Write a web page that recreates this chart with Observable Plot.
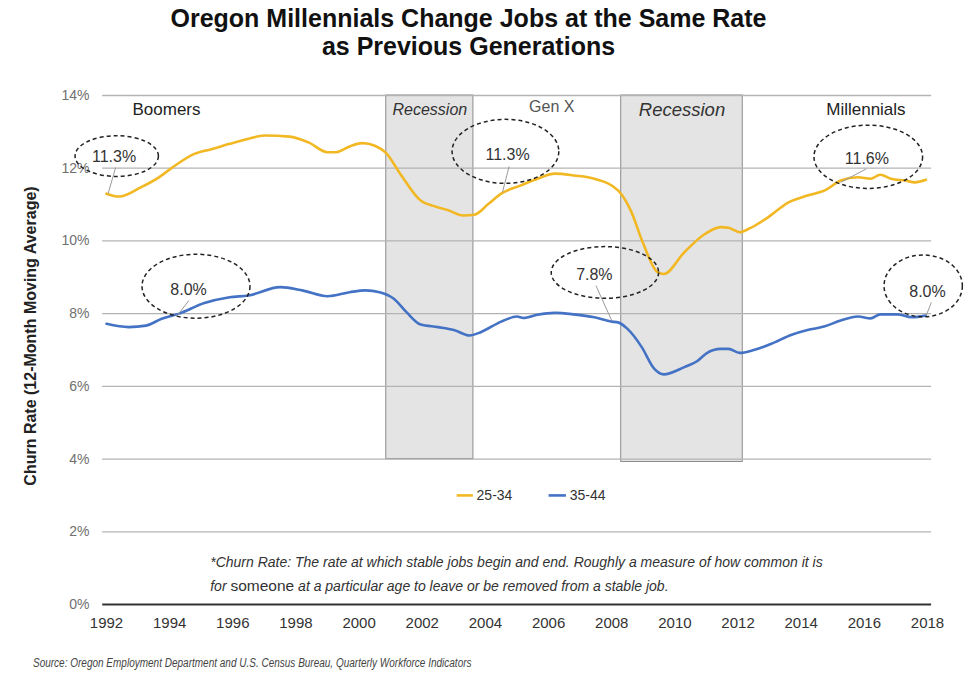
<!DOCTYPE html>
<html>
<head>
<meta charset="utf-8">
<script src="https://cdn.jsdelivr.net/npm/d3@7"></script>
<script src="https://cdn.jsdelivr.net/npm/@observablehq/plot@0.6"></script>
<style>
  html, body { margin: 0; padding: 0; background: #fff; }
  body { width: 977px; height: 691px; overflow: hidden; font-family: "Liberation Sans", Arial, sans-serif; }
  #title { height: 70px; box-sizing: border-box; padding-top: 4px; text-align: center; font-weight: bold; font-size: 25px; line-height: 28px; color: #111; padding-right: 40px; }
  #chart svg { display: block; overflow: visible; }
  #source { font-style: italic; font-size: 12.5px; color: #444; margin-left: 33px; margin-top: 16px; white-space: nowrap; transform: scaleX(0.8); transform-origin: left center; }
  g[aria-label^="x-axis"] text { font-size: 15px; fill: #333; }
  g[aria-label^="y-axis"] text { font-size: 14px; fill: #707070; }
</style>
</head>
<body>
<div id="title">Oregon Millennials Change Jobs at the Same Rate<br>as Previous Generations</div>
<div id="chart"></div>
<div id="source">Source: Oregon Employment Department and U.S. Census Bureau, Quarterly Workforce Indicators</div>
<script>
// ---- Data ----
const seriesNames = ["25-34", "35-44"];
const years2534 = [1992.0, 1992.4, 1993.1, 1993.66, 1994.1, 1994.8, 1995.35, 1995.9, 1996.5, 1997.0, 1997.8, 1998.4, 1999.0, 1999.25, 1999.7, 2000.1, 2000.5, 2000.85, 2001.3, 2001.95, 2002.4, 2002.8, 2003.3, 2003.65, 2004.1, 2004.5, 2005.1, 2005.65, 2006.2, 2006.8, 2007.45, 2008.2, 2008.6, 2009.0, 2009.45, 2009.65, 2010.3, 2010.95, 2011.45, 2011.7, 2012.05, 2012.4, 2012.95, 2013.6, 2014.2, 2014.75, 2015.25, 2015.8, 2016.2, 2016.5, 2016.85, 2017.3, 2017.6, 2017.95];
const rate2534  = [11.30, 11.22, 11.48, 11.75, 12.03, 12.40, 12.53, 12.67, 12.81, 12.90, 12.87, 12.71, 12.44, 12.44, 12.60, 12.69, 12.62, 12.42, 11.85, 11.11, 10.95, 10.85, 10.70, 10.72, 11.02, 11.30, 11.52, 11.71, 11.85, 11.80, 11.71, 11.39, 10.84, 9.92, 9.14, 9.09, 9.69, 10.19, 10.38, 10.36, 10.24, 10.36, 10.65, 11.06, 11.25, 11.39, 11.66, 11.75, 11.71, 11.82, 11.71, 11.66, 11.61, 11.68];
const years3544 = [1992.0, 1992.7, 1993.25, 1993.75, 1994.3, 1995.1, 1995.9, 1996.5, 1997.5, 1998.2, 1999.0, 1999.7, 2000.2, 2000.65, 2001.1, 2001.5, 2001.95, 2002.5, 2003.0, 2003.5, 2003.85, 2004.5, 2005.0, 2005.2, 2005.65, 2006.2, 2006.8, 2007.45, 2008.0, 2008.2, 2008.5, 2008.95, 2009.35, 2009.65, 2010.3, 2010.7, 2011.0, 2011.45, 2011.7, 2012.05, 2012.5, 2013.05, 2013.7, 2014.2, 2014.75, 2015.25, 2015.8, 2016.2, 2016.5, 2017.05, 2017.5, 2017.95];
const rate3544  = [7.72, 7.63, 7.67, 7.86, 8.00, 8.29, 8.45, 8.50, 8.73, 8.64, 8.48, 8.59, 8.64, 8.59, 8.41, 8.04, 7.70, 7.63, 7.55, 7.40, 7.49, 7.78, 7.92, 7.88, 7.97, 8.02, 7.98, 7.90, 7.78, 7.76, 7.58, 7.08, 6.48, 6.33, 6.53, 6.69, 6.91, 7.03, 7.03, 6.92, 7.00, 7.17, 7.42, 7.55, 7.65, 7.81, 7.92, 7.87, 7.98, 7.98, 7.90, 7.95];

const recessionStart = [2000.86, 2008.3];
const recessionEnd   = [2003.62, 2012.15];
const recessionLow   = [4.0, 3.92];
const recessionHigh  = [14, 14];
const recessionLabel = ["Recession", "Recession"];

const generationLabel = ["Boomers", "Gen X", "Millennials"];
const generationYear  = [1993.9, 2006.1, 2016.05];
const generationRate  = [13.6, 13.7, 13.6];

const annLabel      = ["11.3%", "8.0%", "11.3%", "7.8%", "11.6%", "8.0%"];
const annPointYear  = [1992.05, 1994.24, 2004.54, 2008.0, 2015.25, 2017.96];
const annPointRate  = [11.30, 7.95, 11.34, 7.81, 11.61, 7.95];
const annLeadYear   = [1992.29, 1994.61, 2004.75, 2007.5, 2016.06, 2018.12];
const annLeadRate   = [12.02, 8.36, 12.05, 8.77, 11.98, 8.31];
const annCenterYear = [1992.34, 1994.85, 2004.65, 2007.8, 2016.14, 2017.88];
const annCenterRate = [12.32, 8.74, 12.45, 9.12, 12.30, 8.75];
const annHalfYears  = [1.32, 1.71, 1.69, 1.70, 1.72, 1.24];
const annHalfRate   = [0.56, 0.88, 0.88, 0.71, 0.87, 0.85];
const annTextYear   = [1992.24, 1994.6, 2004.7, 2007.45, 2016.08, 2018.0];
const annTextRate   = [12.32, 8.66, 12.38, 9.07, 12.27, 8.59];

const xTicks = [1992, 1994, 1996, 1998, 2000, 2002, 2004, 2006, 2008, 2010, 2012, 2014, 2016, 2018];
const yTicks = [0, 2, 4, 6, 8, 10, 12, 14];
const yAxisLabel = "Churn Rate (12-Month Moving Average)";
const footnoteLine1 = ["*Churn Rate: The rate at which stable jobs begin and end. Roughly a measure of how common it is"];
const footnoteLine2 = ["for ", "someone", " at a particular age to leave or be removed from a stable job."];

// ---- Layout / style (not data) ----
const colors = {"25-34": "#F2B824", "35-44": "#4472C4"};
const legendLayout = [
  {name: "25-34", x1: 2003.09, x2: 2003.6, tx: 2003.72, y: 3.0},
  {name: "35-44", x1: 2006.0, x2: 2006.55, tx: 2006.67, y: 3.0}
];
const footLayout = {x: 1995.3, y1: 1.14, y2: 0.47};

// ---- Build tables ----
const lineData = [
  ...years2534.map((x, i) => ({series: "25-34", year: x, rate: rate2534[i]})),
  ...years3544.map((x, i) => ({series: "35-44", year: x, rate: rate3544[i]}))
];
const recessions = recessionStart.map((s, i) => ({x1: s, x2: recessionEnd[i], y1: recessionLow[i], y2: recessionHigh[i], label: recessionLabel[i], size: i === 0 ? 16 : 18.5}));
const generations = generationLabel.map((g, i) => ({label: g, year: generationYear[i], rate: generationRate[i]}));
const anns = annLabel.map((l, i) => ({
  label: l, px: annPointYear[i], py: annPointRate[i], lx: annLeadYear[i], ly: annLeadRate[i],
  cx: annCenterYear[i], cy: annCenterRate[i], hw: annHalfYears[i], hh: annHalfRate[i],
  tx: annTextYear[i], ty: annTextRate[i]
}));

function ellipseMark(data) {
  return (index, scales) => {
    const g = d3.create("svg:g").attr("aria-label", "annotation ellipses");
    for (const d of data) {
      const cx = scales.x(d.cx), cy = scales.y(d.cy);
      const rx = Math.abs(scales.x(d.cx + d.hw) - cx);
      const ry = Math.abs(scales.y(d.cy + d.hh) - cy);
      g.append("ellipse")
        .attr("cx", cx).attr("cy", cy).attr("rx", rx).attr("ry", ry)
        .attr("fill", "none").attr("stroke", "#222").attr("stroke-width", 1.5)
        .attr("stroke-dasharray", "4,3");
    }
    return g.node();
  };
}

function footnoteMark() {
  return (index, scales) => {
    const g = d3.create("svg:g").attr("aria-label", "footnote")
      .attr("font-family", "Liberation Sans, Arial, sans-serif").attr("fill", "#333")
      .attr("text-anchor", "start");
    g.append("text")
      .attr("x", scales.x(footLayout.x)).attr("y", scales.y(footLayout.y1)).attr("dy", "0.32em")
      .attr("text-anchor", "start")
      .attr("font-size", 14).attr("font-style", "italic").text(footnoteLine1[0]);
    const t = g.append("text")
      .attr("x", scales.x(footLayout.x)).attr("y", scales.y(footLayout.y2)).attr("dy", "0.32em")
      .attr("text-anchor", "start")
      .attr("font-size", 14).attr("font-style", "italic");
    footnoteLine2.forEach((s, i) => {
      const ts = t.append("tspan").text(s);
      if (i === 1) ts.attr("font-style", "normal").attr("font-size", 15.5);
    });
    return g.node();
  };
}

const chart = Plot.plot({
  width: 977,
  height: 570,
  marginLeft: 106,
  marginRight: 50,
  marginTop: 25,
  marginBottom: 36,
  style: {fontFamily: "Liberation Sans, Arial, sans-serif", overflow: "visible", background: "transparent"},
  x: {domain: [1992, 2018], ticks: xTicks, tickFormat: d => String(d), tickSize: 0, tickPadding: 13, label: null},
  y: {domain: [0, 14], ticks: yTicks, tickFormat: d => d + "%", tickSize: 0, tickPadding: 17, label: null},
  marks: [
    Plot.rect(recessions, {x1: "x1", x2: "x2", y1: "y1", y2: "y2", fill: "#e4e4e4", stroke: "#8c8c8c", strokeWidth: 1}),
    Plot.ruleY(yTicks.filter(d => d > 0), {x1: 1991.88, x2: 2018.13, stroke: "#b3b3b3", strokeWidth: 1.3}),
    Plot.ruleY([0], {x1: 1991.88, x2: 2018.13, stroke: "#333", strokeWidth: 2}),
    Plot.text(recessions, {x: d => (d.x1 + d.x2) / 2, y: 13.6, text: "label", fontStyle: "italic", fontSize: d => d.size, fill: "#333"}),
    Plot.text(generations, {x: "year", y: "rate", text: "label", fontSize: d => d.label === "Gen X" ? 16 : 17, fill: d => d.label === "Gen X" ? "#555" : "#222"}),
    Plot.line(lineData, {x: "year", y: "rate", z: "series", stroke: d => colors[d.series], strokeWidth: 2.6, curve: "monotone-x"}),
    Plot.link(anns, {x1: "px", y1: "py", x2: "lx", y2: "ly", stroke: "#9a9a9a", strokeWidth: 1}),
    ellipseMark(anns),
    Plot.text(anns, {x: "tx", y: "ty", text: "label", fontSize: 16, fill: "#333"}),
    Plot.link(legendLayout, {x1: "x1", x2: "x2", y1: "y", y2: "y", stroke: d => colors[d.name], strokeWidth: 2.6}),
    Plot.text(legendLayout, {x: "tx", y: "y", text: "name", textAnchor: "start", fontSize: 14, fill: "#333"}),
    footnoteMark(),
    Plot.text([yAxisLabel], {frameAnchor: "left", textAnchor: "middle", text: d => d, rotate: -90, dx: -76, dy: -14, fontSize: 16, fontWeight: "bold", fill: "#222"})
  ]
});
document.getElementById("chart").appendChild(chart);
</script>
</body>
</html>
